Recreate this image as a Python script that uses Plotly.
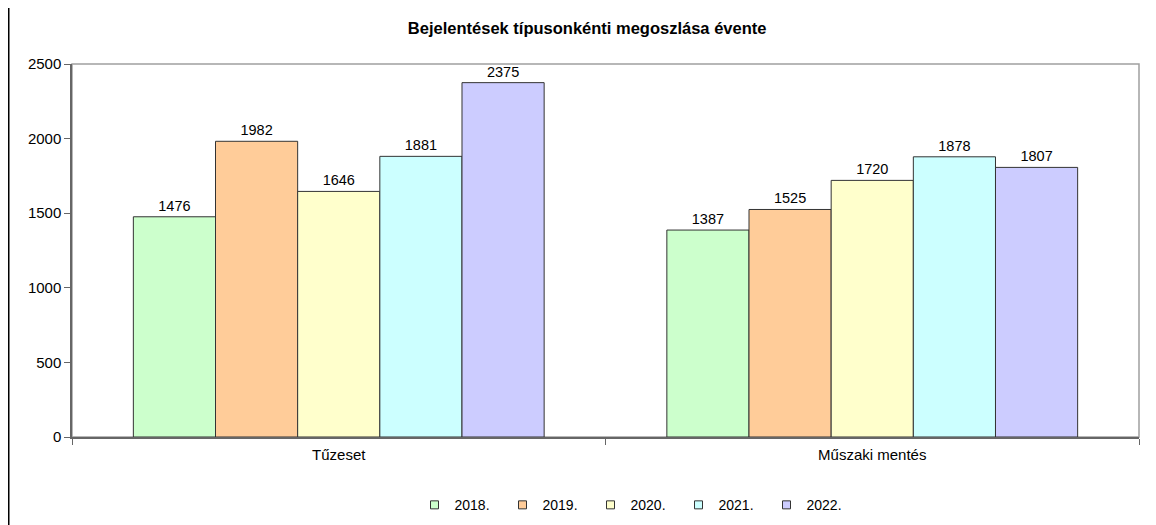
import plotly.graph_objects as go

categories = ["Tűzeset", "Műszaki mentés"]
years = ["2018.", "2019.", "2020.", "2021.", "2022."]
values_2018 = [1476, 1387]
values_2019 = [1982, 1525]
values_2020 = [1646, 1720]
values_2021 = [1881, 1878]
values_2022 = [2375, 1807]
series = [values_2018, values_2019, values_2020, values_2021, values_2022]
colors = ["#CCFFCC", "#FFCC99", "#FFFFCC", "#CCFFFF", "#CCCCFF"]

FONT = "Arial, Liberation Sans"

fig = go.Figure()
for name, vals, col in zip(years, series, colors):
    fig.add_trace(go.Bar(
        x=categories, y=vals, name=name, showlegend=False,
        marker=dict(color=col, line=dict(color="#333333", width=1)),
        text=[str(v) for v in vals], textposition="outside",
        textfont=dict(family=FONT, size=14.5, color="#000000"),
        cliponaxis=False,
    ))
# legend entries with small square symbols
for name, col in zip(years, colors):
    fig.add_trace(go.Scatter(
        x=[None], y=[None], mode="markers", name=name,
        marker=dict(symbol="square", size=8, color=col,
                    line=dict(color="#333333", width=1)),
    ))

fig.update_layout(
    width=1156, height=525,
    margin=dict(l=64, r=25, t=56, b=91),
    paper_bgcolor="white", plot_bgcolor="white",
    barmode="group", bargap=0.23, bargroupgap=0,
    font=dict(family=FONT, size=13, color="#000000"),
    title=dict(text="<b>Bejelentések típusonkénti megoszlása évente</b>",
               x=0.501, xref="container", xanchor="center", y=0.962, yanchor="middle",
               font=dict(family=FONT, size=16.5, color="#000000")),
    showlegend=True,
    legend=dict(orientation="h", x=0.321, xanchor="left", y=-0.183, yanchor="middle",
                entrywidth=43, entrywidthmode="pixels", itemwidth=30,
                font=dict(family=FONT, size=14, color="#000000")),
    xaxis=dict(showgrid=False, showline=True, linecolor="#666666", linewidth=1.5,
               ticks="outside", tickson="boundaries", ticklen=6, tickcolor="#666666",
               tickfont=dict(size=15), ticklabelstandoff=3),
    yaxis=dict(range=[0, 2500], dtick=500, showgrid=False, showline=True,
               linecolor="#666666", linewidth=1.5, ticks="outside", ticklen=6,
               tickcolor="#666666", tickfont=dict(size=15), zeroline=False),
    shapes=[
        dict(type="rect", xref="paper", yref="paper", x0=0, x1=1, y0=0, y1=1,
             line=dict(color="#A0A0A0", width=1.5), layer="below"),
        dict(type="line", xref="paper", yref="paper", x0=-0.0595, x1=-0.0595, y0=-0.3, y1=1.2,
             line=dict(color="#000000", width=2)),
    ],
)

fig.write_html("out.html")
